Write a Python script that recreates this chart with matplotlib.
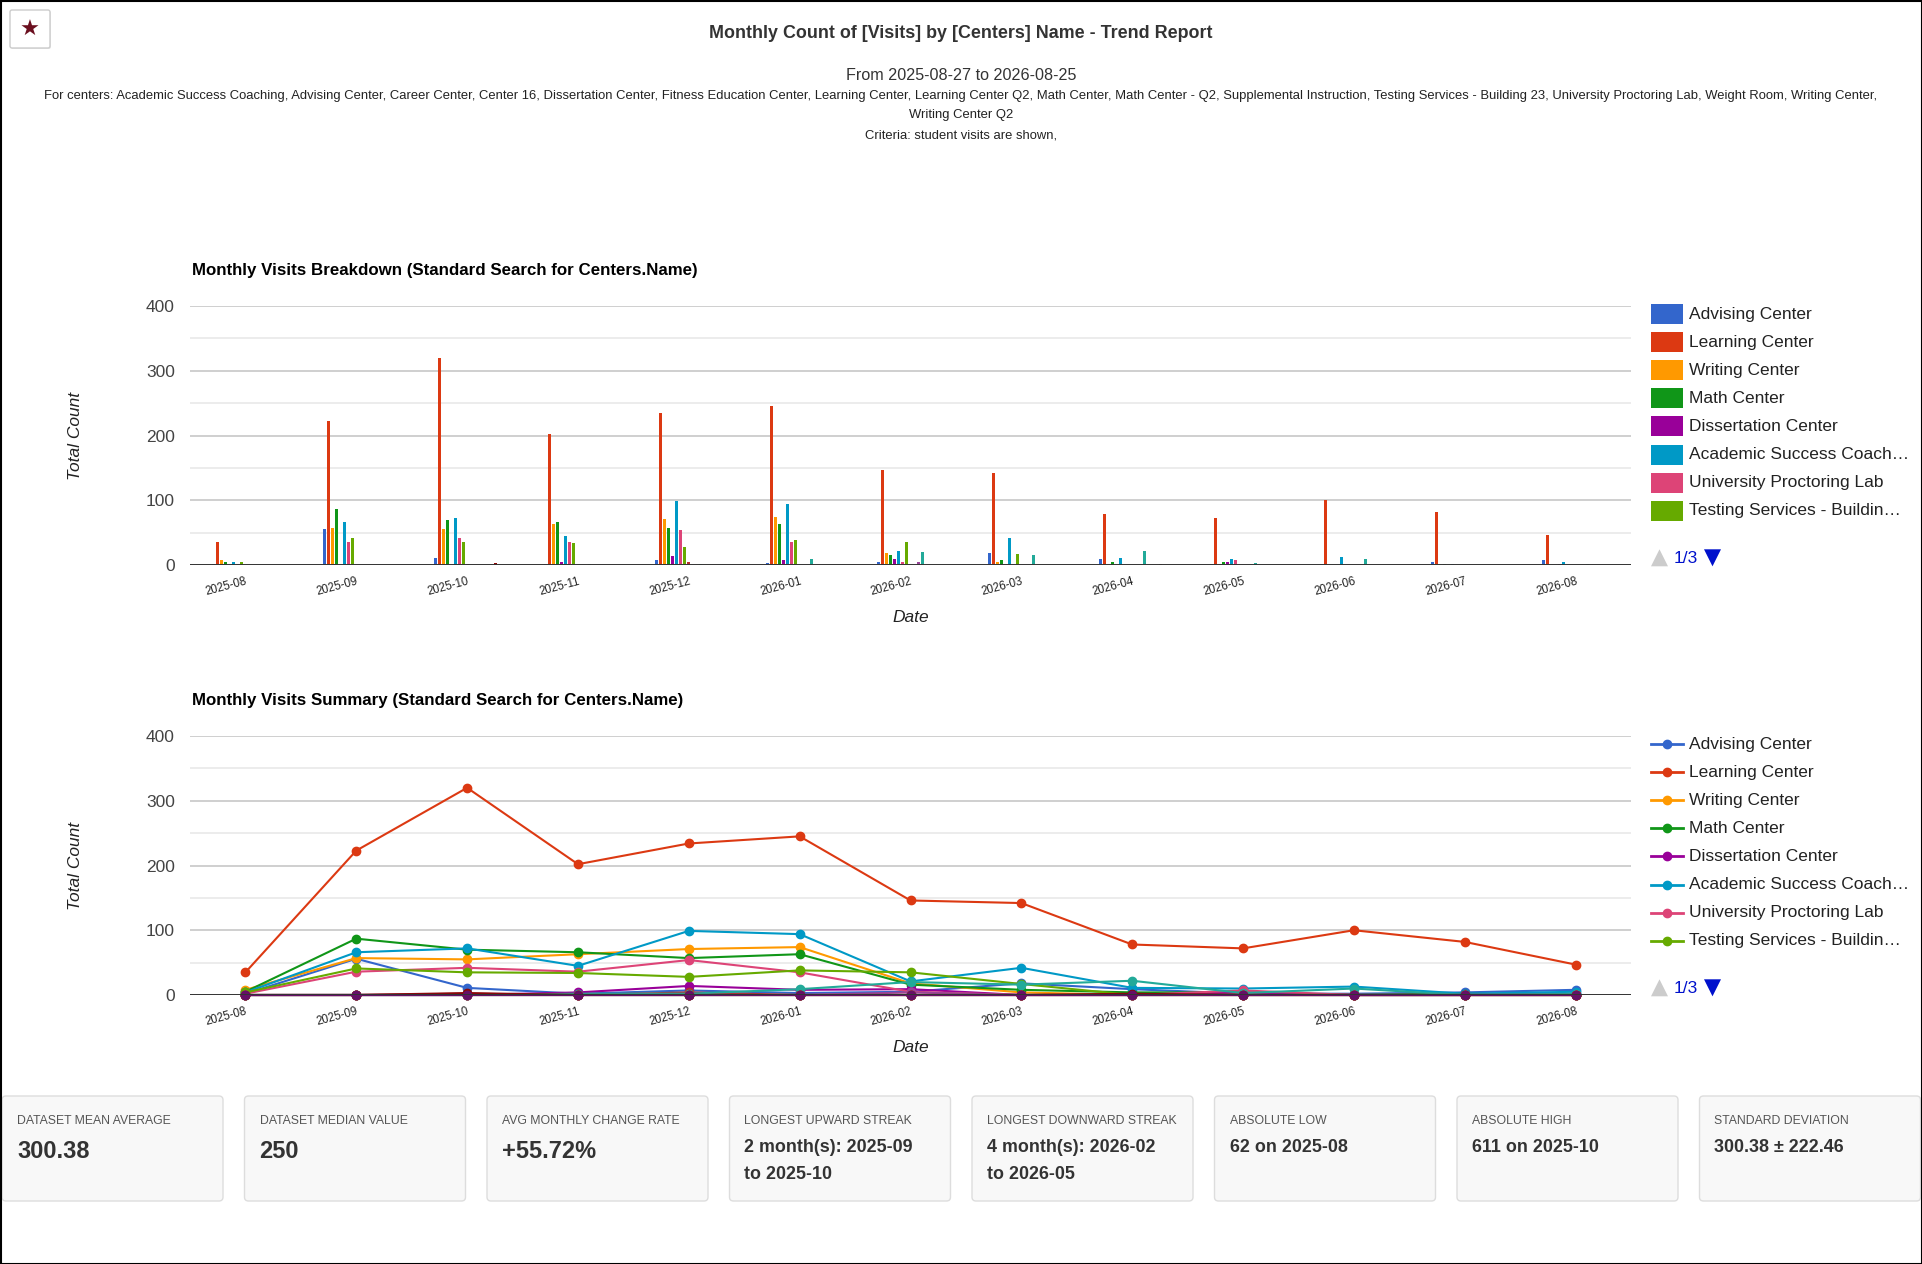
import numpy as np
import matplotlib
matplotlib.use('Agg')
import matplotlib.pyplot as plt
from matplotlib import transforms
from matplotlib.patches import FancyBboxPatch, Rectangle, Polygon
from matplotlib.lines import Line2D

plt.rcParams['font.family'] = ['Liberation Sans', 'DejaVu Sans']

# Данные: месяцы и посещения по центрам
months = ['2025-08', '2025-09', '2025-10', '2025-11', '2025-12', '2026-01', '2026-02',
          '2026-03', '2026-04', '2026-05', '2026-06', '2026-07', '2026-08']

centers = ['Advising Center', 'Learning Center', 'Writing Center', 'Math Center',
           'Dissertation Center', 'Academic Success Coaching', 'University Proctoring Lab',
           'Testing Services - Building 23', 'Career Center', 'Center 16',
           'Fitness Education Center', 'Supplemental Instruction', 'Learning Center Q2',
           'Math Center - Q2', 'Weight Room', 'Writing Center Q2', 'Other']

colors = ['#3366cc', '#dc3912', '#ff9900', '#109618', '#990099', '#0099c6', '#dd4477',
          '#66aa00', '#b82e2e', '#316395', '#994499', '#22aa99', '#aaaa11', '#6633cc',
          '#e67300', '#8b0707', '#651067']

advising = [2, 56, 11, 2, 7, 3, 5, 18, 9, 2, 2, 4, 8]
learning = [35, 223, 320, 202, 234, 245, 146, 142, 78, 72, 100, 82, 47]
writing = [8, 57, 55, 63, 71, 74, 18, 4, 0, 2, 0, 0, 0]
math = [5, 87, 70, 66, 57, 63, 16, 8, 4, 4, 0, 2, 0]
dissertation = [0, 0, 0, 4, 14, 8, 9, 0, 0, 4, 0, 0, 2]
academic = [4, 66, 72, 45, 99, 94, 21, 42, 11, 10, 13, 2, 5]
proctoring = [2, 36, 42, 36, 54, 35, 5, 0, 0, 7, 0, 0, 0]
testing = [4, 41, 35, 34, 28, 38, 35, 17, 0, 0, 0, 0, 0]
career = [0, 0, 2, 0, 4, 0, 0, 0, 0, 0, 0, 0, 0]
center16 = [0] * 13
fitness = [0, 0, 0, 0, 0, 0, 4, 0, 0, 0, 0, 0, 0]
supplemental = [0, 0, 0, 2, 2, 9, 20, 16, 22, 3, 10, 0, 2]
learning_q2 = [0] * 13
math_q2 = [0] * 13
weight_room = [0] * 13
writing_q2 = [0, 0, 3, 0, 0, 0, 0, 0, 2, 0, 0, 0, 0]
other = [0] * 13

values = [advising, learning, writing, math, dissertation, academic, proctoring, testing,
          career, center16, fitness, supplemental, learning_q2, math_q2, weight_room,
          writing_q2, other]

legend_labels = ['Advising Center', 'Learning Center', 'Writing Center', 'Math Center',
                 'Dissertation Center', 'Academic Success Coach…', 'University Proctoring Lab',
                 'Testing Services - Buildin…']

card_labels = ['DATASET MEAN AVERAGE', 'DATASET MEDIAN VALUE', 'AVG MONTHLY CHANGE RATE',
               'LONGEST UPWARD STREAK', 'LONGEST DOWNWARD STREAK', 'ABSOLUTE LOW',
               'ABSOLUTE HIGH', 'STANDARD DEVIATION']
card_values = ['300.38', '250', '+55.72%', '2 month(s): 2025-09\nto 2025-10',
               '4 month(s): 2026-02\nto 2026-05', '62 on 2025-08', '611 on 2025-10',
               '300.38 ± 222.46']

W, H = 1922, 1264
fig = plt.figure(figsize=(W / 100, H / 100), dpi=100)
px = transforms.Affine2D().scale(1 / W, -1 / H).translate(0, 1) + fig.transFigure


def ax_at(x0, y0, x1, y1):
    return fig.add_axes([x0 / W, 1 - y1 / H, (x1 - x0) / W, (y1 - y0) / H])


def txt(x, y, s, **kw):
    return fig.text(x, y, s, transform=px, **kw)


x = np.arange(len(months))
shift = transforms.ScaledTranslation(4 / 100, 0, fig.dpi_scale_trans)


def style(ax):
    ax.set_xlim(-0.5, len(months) - 0.5)
    ax.set_ylim(0, 400)
    for s in ax.spines.values():
        s.set_visible(False)
    ax.set_yticks([0, 100, 200, 300, 400])
    ax.set_yticks([50, 150, 250, 350], minor=True)
    ax.grid(axis='y', which='major', color='#cccccc', lw=1.3, zorder=0)
    ax.grid(axis='y', which='minor', color='#ebebeb', lw=1.3, zorder=0)
    ax.set_axisbelow(True)
    ax.axhline(0, color='#333333', lw=1.4, zorder=50)
    ax.tick_params(which='both', length=0)
    ax.tick_params(axis='y', labelsize=12.5, labelcolor='#444444', pad=10.8)
    ax.set_xticks(x)
    ax.set_xticklabels(months, rotation=15, ha='right', rotation_mode='anchor',
                       fontsize=8.3, color='#222222')
    for lab in ax.get_xticklabels():
        lab.set_transform(lab.get_transform() + shift)
    ax.tick_params(axis='x', pad=7.5)
    ax.set_xlabel('Date', fontsize=12.5, style='italic', color='#222222')
    ax.xaxis.set_label_coords(0.5, -0.172)
    ax.set_ylabel('Total Count', fontsize=12.5, style='italic', color='#222222')
    ax.yaxis.set_label_coords(-0.074, 0.5)


# Заголовки отчёта
txt(961, 34, 'Monthly Count of [Visits] by [Centers] Name - Trend Report',
    ha='center', va='center', fontsize=12.9, weight='bold', color='#333333')
txt(961, 76, 'From 2025-08-27 to 2026-08-25', ha='center', va='center',
    fontsize=11.6, color='#333333')
txt(961, 96, 'For centers: Academic Success Coaching, Advising Center, Career Center, Center 16, '
    'Dissertation Center, Fitness Education Center, Learning Center, Learning Center Q2, '
    'Math Center, Math Center - Q2, Supplemental Instruction, Testing Services - Building 23, '
    'University Proctoring Lab, Weight Room, Writing Center,',
    ha='center', va='center', fontsize=9.35, color='#222222')
txt(961, 115, 'Writing Center Q2', ha='center', va='center', fontsize=9.35, color='#222222')
txt(961, 135, 'Criteria: student visits are shown,', ha='center', va='center',
    fontsize=9.35, color='#222222')

# Кнопка со звездой
fig.add_artist(FancyBboxPatch((11, 11), 40, 38, boxstyle='round,pad=0,rounding_size=2',
                              transform=px, facecolor='#e8e8e8', edgecolor='none'))
fig.add_artist(FancyBboxPatch((10, 10), 40, 38, boxstyle='round,pad=0,rounding_size=2',
                              transform=px, facecolor='white', edgecolor='#cccccc', lw=1))
txt(30, 30, '★', ha='center', va='center', fontsize=16, color='#6b0f1f',
    family='DejaVu Sans')

# Столбчатая диаграмма
ax1 = ax_at(190, 306, 1631, 565)
n = len(values)
bw = 0.614 / n
for j, (vals, c) in enumerate(zip(values, colors)):
    ax1.bar(x + (j - (n - 1) / 2) * bw, vals, width=bw * 0.75, color=c, zorder=3)
style(ax1)
txt(192, 271, 'Monthly Visits Breakdown (Standard Search for Centers.Name)',
    ha='left', va='center', fontsize=12.2, weight='bold', color='#000000')

# Линейная диаграмма
ax2 = ax_at(190, 736, 1631, 995)
for j, (vals, c) in enumerate(zip(values, colors)):
    ax2.plot(x, vals, color=c, lw=1.5, marker='o', ms=6, clip_on=False, zorder=3 + j)
style(ax2)
txt(192, 701, 'Monthly Visits Summary (Standard Search for Centers.Name)',
    ha='left', va='center', fontsize=12.2, weight='bold', color='#000000')


# Легенды (первая страница из трёх)
def legend(y0, kind):
    for i, lab in enumerate(legend_labels):
        y = y0 + i * 28.1
        if kind == 'bar':
            fig.add_artist(Rectangle((1651, y - 10), 32, 20, transform=px,
                                     facecolor=colors[i], edgecolor='none'))
        else:
            fig.add_artist(Line2D([1651, 1683], [y, y], transform=px, color=colors[i], lw=2))
            fig.add_artist(Line2D([1667], [y], transform=px, color=colors[i],
                                  marker='o', ms=6))
        txt(1689, y, lab, ha='left', va='center', fontsize=12.5, color='#222222')
    yp = y0 + 8 * 28.1 + 19.5
    fig.add_artist(Polygon([(1651, yp + 8), (1668, yp + 8), (1659.5, yp - 9)],
                           transform=px, facecolor='#cccccc', edgecolor='none'))
    txt(1686, yp, '1/3', ha='center', va='center', fontsize=12.5, color='#0011cc')
    fig.add_artist(Polygon([(1704, yp - 9), (1721, yp - 9), (1712.5, yp + 8)],
                           transform=px, facecolor='#0011cc', edgecolor='none'))


legend(314, 'bar')
legend(744, 'line')

# Карточки со статистикой
for i, (lab, val) in enumerate(zip(card_labels, card_values)):
    x0 = 2 + i * 242.5
    fig.add_artist(FancyBboxPatch((x0, 1096), 221, 105, boxstyle='round,pad=0,rounding_size=4',
                                  transform=px, facecolor='#f8f8f8', edgecolor='#dddddd', lw=1))
    txt(x0 + 15, 1121, lab, ha='left', va='center', fontsize=8.85, color='#555555')
    if i < 3:
        txt(x0 + 15, 1152, val, ha='left', va='center', fontsize=17, weight='bold',
            color='#333333')
    else:
        for k, line in enumerate(val.split('\n')):
            txt(x0 + 15, 1147.5 + k * 27, line, ha='left', va='center', fontsize=12.9,
                weight='bold', color='#333333')

# Рамка
fig.add_artist(Rectangle((0.5, 0.5), W - 1, H - 1, transform=px, facecolor='none',
                         edgecolor='black', lw=1.5))

fig.savefig('out.png', dpi=100, facecolor='white')
